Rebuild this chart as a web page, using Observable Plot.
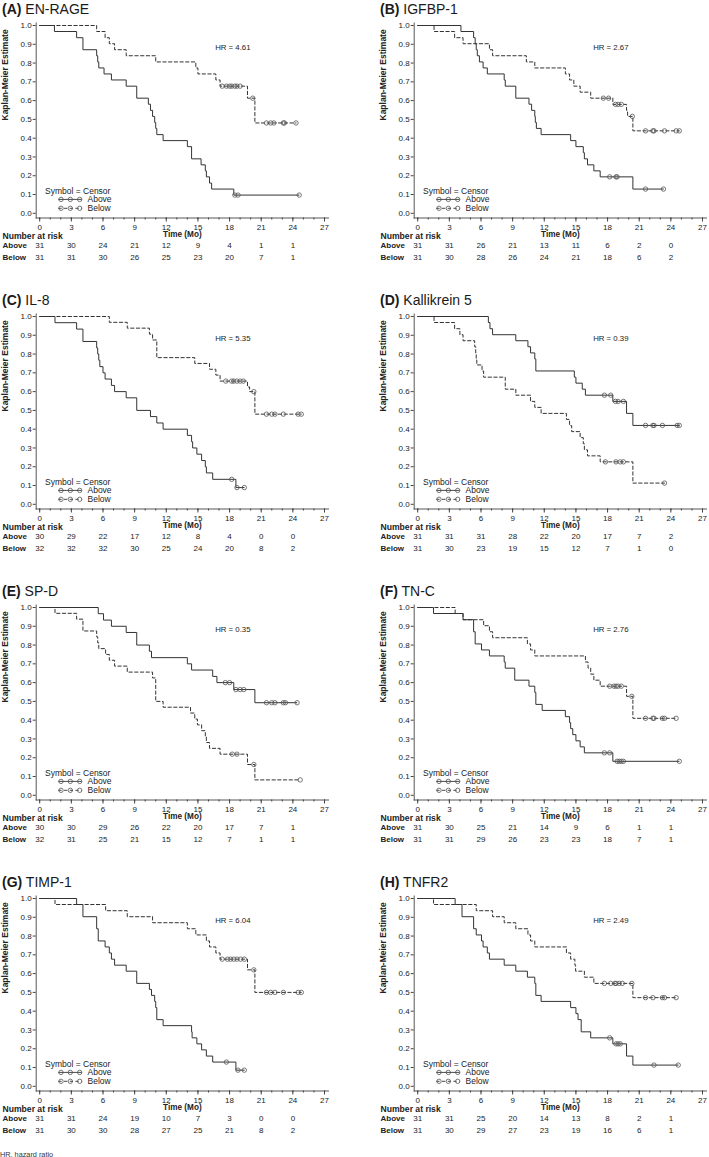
<!DOCTYPE html>
<html>
<head>
<meta charset="utf-8">
<script src="https://cdn.jsdelivr.net/npm/d3@7"></script>
<script src="https://cdn.jsdelivr.net/npm/@observablehq/plot@0.6"></script>
<style>
  html, body { margin: 0; padding: 0; background: #fff; }
  body { width: 709px; height: 1157px; position: relative; overflow: hidden;
         font-family: "Liberation Sans", Arial, Helvetica, sans-serif; color: #222; }
  .panel { position: absolute; width: 331px; height: 280px; }
  .title { position: absolute; left: 2px; top: 2px; font-size: 14px; line-height: 14px; white-space: nowrap; color: #1a1a1a; }
  .title b { font-weight: bold; }
  .legend { position: absolute; left: 0; top: 0; pointer-events: none; }
  .footer { position: absolute; left: 0; top: 1149.5px; font-size: 7.3px; line-height: 9px; color: #333; }
</style>
</head>
<body>
<script>
// ---------- data ----------
const panelLetters = ["A", "B", "C", "D", "E", "F", "G", "H"];
const markerNames = ["EN-RAGE", "IGFBP-1", "IL-8", "Kallikrein 5", "SP-D", "TN-C", "TIMP-1", "TNFR2"];
const hazardRatios = ["4.61", "2.67", "5.35", "0.39", "0.35", "2.76", "6.04", "2.49"];
const xTicks = [0, 3, 6, 9, 12, 15, 18, 21, 24, 27];
const yTicks = [0, 0.1, 0.2, 0.3, 0.4, 0.5, 0.6, 0.7, 0.8, 0.9, 1.0];
const riskTimes = [0, 3, 6, 9, 12, 15, 18, 21, 24];
const riskAbove = [
  [31, 30, 24, 21, 12, 9, 4, 1, 1],
  [31, 31, 26, 21, 13, 11, 6, 2, 0],
  [30, 29, 22, 17, 12, 8, 4, 0, 0],
  [31, 31, 31, 28, 22, 20, 17, 7, 2],
  [30, 30, 29, 26, 22, 20, 17, 7, 1],
  [31, 30, 25, 21, 14, 9, 6, 1, 1],
  [31, 31, 24, 19, 10, 7, 3, 0, 0],
  [31, 31, 25, 20, 14, 13, 8, 2, 1]
];
const riskBelow = [
  [31, 31, 30, 26, 25, 23, 20, 7, 1],
  [31, 30, 28, 26, 24, 21, 18, 6, 2],
  [32, 32, 32, 30, 25, 24, 20, 8, 2],
  [31, 30, 23, 19, 15, 12, 7, 1, 0],
  [32, 31, 25, 21, 15, 12, 7, 1, 1],
  [31, 31, 29, 26, 23, 23, 18, 7, 1],
  [31, 30, 30, 28, 27, 25, 21, 8, 2],
  [31, 30, 29, 27, 23, 19, 16, 6, 1]
];
// [time (months), Kaplan-Meier estimate after the step]
const aboveSteps = [
  [[1.4,.968],[3.5,.935],[4.1,.871],[5.4,.839],[5.5,.806],[5.6,.774],[6.1,.742],[6.8,.710],[8.2,.677],[9.2,.613],[10.3,.581],[10.5,.548],[10.7,.516],[10.9,.484],[11.0,.452],[11.1,.419],[11.7,.387],[14.0,.355],[14.4,.290],[15.3,.258],[15.7,.226],[15.8,.194],[16.1,.161],[16.3,.129],[18.4,.097]],
  [[4.1,.968],[5.3,.935],[5.45,.903],[5.55,.871],[5.65,.839],[5.85,.806],[6.2,.774],[6.6,.742],[8.2,.710],[8.3,.677],[9.3,.613],[10.55,.581],[10.8,.548],[11.1,.516],[11.15,.484],[11.25,.452],[11.7,.419],[14.5,.387],[15.0,.355],[15.7,.323],[15.8,.290],[16.1,.258],[16.7,.226],[17.3,.194],[20.4,.129]],
  [[1.45,.967],[3.5,.933],[4.1,.867],[5.4,.833],[5.5,.8],[5.6,.767],[5.7,.733],[6.0,.7],[6.2,.667],[6.8,.633],[7.1,.6],[8.2,.567],[9.2,.5],[10.5,.467],[11.1,.433],[11.7,.4],[14.0,.367],[14.4,.333],[14.5,.3],[14.9,.267],[15.35,.233],[15.7,.2],[15.8,.167],[16.4,.133],[18.6,.089]],
  [[6.7,.968],[6.85,.935],[7.1,.903],[9.3,.871],[10.45,.839],[10.7,.806],[11.1,.774],[11.2,.710],[14.85,.677],[15.0,.645],[15.6,.613],[15.9,.581],[18.5,.548],[19.8,.484],[20.4,.42]],
  [[5.55,.967],[6.05,.933],[6.8,.9],[8.2,.867],[9.2,.8],[10.4,.767],[10.6,.733],[14.0,.7],[14.4,.667],[16.4,.633],[16.8,.6],[18.4,.563],[20.4,.493]],
  [[1.5,.968],[4.3,.935],[5.3,.871],[5.45,.806],[6.05,.774],[6.8,.742],[8.2,.710],[8.3,.677],[9.2,.613],[10.55,.581],[11.1,.548],[11.2,.484],[11.8,.452],[14.0,.419],[14.4,.387],[14.5,.355],[14.7,.323],[15.0,.290],[15.4,.258],[15.8,.226],[18.5,.181]],
  [[3.5,.968],[4.1,.903],[5.4,.839],[5.55,.774],[6.2,.742],[6.6,.710],[6.8,.677],[7.1,.645],[8.2,.613],[9.2,.548],[10.4,.516],[10.6,.484],[10.9,.452],[11.0,.419],[11.1,.355],[11.7,.323],[14.4,.290],[14.45,.258],[14.9,.226],[15.35,.194],[15.8,.161],[16.4,.129],[18.6,.086]],
  [[3.55,.968],[4.2,.903],[5.3,.839],[5.55,.806],[6.05,.774],[6.2,.742],[6.6,.710],[6.8,.677],[8.2,.645],[9.3,.613],[10.4,.581],[11.1,.548],[11.2,.484],[11.7,.452],[14.5,.419],[15.0,.387],[15.2,.355],[15.5,.290],[16.4,.258],[18.5,.226],[19.8,.161],[20.4,.113]]
];
const aboveCensor = [
  [18.5, 18.8, 24.6],
  [18.2, 18.8, 18.9, 21.6, 23.3],
  [18.2, 18.7, 19.4],
  [17.7, 18.3, 18.75, 19.0, 19.5, 21.6, 22.3, 22.4, 23.2, 24.6, 24.8],
  [17.6, 18.0, 18.6, 19.0, 19.35, 21.5, 22.0, 22.3, 23.1, 23.3, 24.4],
  [17.7, 18.2, 18.9, 19.1, 19.3, 19.5, 24.8],
  [17.7, 18.8, 19.4],
  [18.2, 18.8, 19.0, 19.2, 22.4, 24.7]
];
const belowSteps = [
  [[5.4,.968],[6.2,.935],[6.6,.903],[7.1,.871],[8.2,.839],[11.0,.806],[14.8,.774],[15.0,.742],[16.7,.710],[17.1,.677],[19.7,.613],[20.4,.481]],
  [[1.55,.968],[3.5,.935],[4.3,.903],[6.8,.871],[7.1,.839],[10.3,.806],[11.1,.774],[14.0,.742],[14.4,.710],[14.8,.677],[15.4,.645],[16.4,.613],[18.5,.58],[19.8,.548],[19.9,.516],[20.4,.439]],
  [[6.6,.969],[8.3,.938],[10.4,.906],[10.7,.875],[11.1,.781],[14.7,.75],[16.1,.719],[16.7,.688],[17.1,.656],[19.7,.625],[19.9,.6],[20.4,.48]],
  [[1.55,.968],[3.5,.935],[4.0,.903],[4.3,.871],[5.4,.839],[5.5,.806],[5.55,.774],[5.6,.742],[6.1,.710],[6.25,.677],[8.3,.613],[9.3,.581],[10.7,.548],[11.1,.516],[11.7,.484],[14.1,.452],[14.4,.419],[14.6,.387],[15.4,.355],[15.7,.323],[15.8,.290],[16.1,.258],[17.3,.226],[20.4,.113]],
  [[1.45,.969],[3.5,.938],[4.1,.875],[5.4,.844],[5.5,.812],[5.6,.781],[6.25,.75],[6.6,.719],[7.1,.688],[8.3,.656],[10.7,.625],[11.0,.5],[11.7,.469],[14.3,.438],[14.7,.406],[14.95,.375],[15.35,.344],[15.7,.312],[15.8,.281],[16.1,.25],[17.1,.219],[19.7,.164],[20.4,.082]],
  [[3.55,.968],[4.3,.935],[6.25,.903],[6.8,.871],[7.1,.839],[10.4,.806],[10.7,.774],[11.1,.742],[15.9,.710],[16.15,.677],[16.4,.645],[16.7,.613],[17.3,.581],[19.8,.527],[20.4,.41]],
  [[1.45,.968],[6.25,.935],[8.3,.903],[10.7,.871],[14.0,.839],[14.8,.806],[15.8,.774],[16.1,.742],[16.7,.710],[17.1,.677],[19.7,.62],[20.4,.5]],
  [[1.5,.968],[5.55,.935],[7.1,.903],[8.2,.871],[9.3,.839],[10.45,.806],[10.7,.774],[11.1,.742],[14.1,.710],[14.5,.677],[14.9,.645],[14.97,.613],[15.8,.581],[16.7,.548],[20.4,.472]]
];
const belowCensor = [
  [17.3, 17.7, 18.0, 18.2, 18.5, 18.7, 19.0, 20.2, 21.5, 21.9, 22.2, 23.1, 23.2, 24.3],
  [17.6, 18.1, 18.75, 19.0, 19.3, 20.35, 21.6, 22.3, 22.4, 23.4, 24.5, 24.8],
  [17.65, 18.2, 18.4, 18.7, 19.0, 19.3, 20.3, 21.5, 22.0, 22.3, 23.1, 24.5, 24.8],
  [17.8, 18.8, 19.2, 19.5, 23.4],
  [18.25, 18.7, 20.3, 24.7],
  [18.2, 18.6, 18.8, 19.0, 19.3, 20.3, 21.6, 22.3, 22.4, 23.2, 23.4, 24.5],
  [17.3, 17.8, 18.1, 18.4, 18.7, 19.05, 19.4, 20.3, 21.5, 21.9, 22.3, 23.1, 24.5, 24.8],
  [17.7, 18.3, 18.7, 18.8, 19.1, 19.4, 20.3, 21.6, 22.3, 23.2, 23.4, 24.5]
];

// ---------- helpers ----------
const INK = "#333";
const AXIS = "#444";
const DASH = "3.3,2.4";
const FONT = "'Liberation Sans', Arial, Helvetica, sans-serif";

function survAt(steps, t) {
  let s = 1;
  for (const [st, sv] of steps) if (st <= t) s = sv;
  return s;
}
function curve(steps, censor) {
  const pts = [{t: 0, s: 1}, ...steps.map(([t, s]) => ({t, s}))];
  const tEnd = Math.max(steps[steps.length - 1][0], d3.max(censor));
  pts.push({t: tEnd, s: steps[steps.length - 1][1]});
  return pts;
}
function censorPts(steps, censor) {
  return censor.map(t => ({t, s: survAt(steps, t)}));
}

function makeLegend() {
  const svg = d3.create("svg").attr("class", "legend").attr("width", 331).attr("height", 230)
    .style("font-family", FONT).style("font-size", "8.5px").style("fill", "#222");
  svg.append("text").attr("x", 45).attr("y", 190.8).attr("dy", "0.35em").text("Symbol = Censor");
  const rows = [{y: 199.4, label: "Above", dash: null}, {y: 208.3, label: "Below", dash: DASH}];
  for (const r of rows) {
    svg.append("line").attr("x1", 58.3).attr("x2", 81.7).attr("y1", r.y).attr("y2", r.y)
      .attr("stroke", INK).attr("stroke-width", 0.9).attr("stroke-dasharray", r.dash);
    for (const cx of [61, 70.3, 79.7]) {
      svg.append("circle").attr("cx", cx).attr("cy", r.y).attr("r", 2.2)
        .attr("fill", "none").attr("stroke", "#555").attr("stroke-width", 0.8);
    }
    svg.append("text").attr("x", 87.5).attr("y", r.y).attr("dy", "0.35em").text(r.label);
  }
  return svg.node();
}

function makePanel(i) {
  const up = aboveSteps[i], uc = aboveCensor[i], dn = belowSteps[i], dc = belowCensor[i];
  const riskA = riskTimes.map((t, k) => ({t, n: riskAbove[i][k]}));
  const riskB = riskTimes.map((t, k) => ({t, n: riskBelow[i][k]}));
  return Plot.plot({
    width: 331,
    height: 270,
    marginLeft: 35.7,
    marginRight: 3,
    marginTop: 22.5,
    marginBottom: 52.5,
    x: {domain: [0, 27], insetLeft: 3.5, insetRight: 4},
    y: {domain: [0, 1], insetTop: 2.5, insetBottom: 4.7},
    style: {fontFamily: FONT, fontSize: "8px", color: "#222", background: "transparent", overflow: "visible"},
    marks: [
      Plot.frame({anchor: "left", stroke: AXIS, strokeWidth: 0.9}),
      Plot.frame({anchor: "bottom", stroke: AXIS, strokeWidth: 0.9}),
      Plot.axisY({ticks: yTicks, tickFormat: d3.format(".1f"), tickSize: 3, tickPadding: 1.5, label: null, stroke: AXIS}),
      Plot.axisX({ticks: xTicks, tickSize: 4, tickPadding: 2, label: null, stroke: AXIS}),
      Plot.axisX({ticks: d3.range(0, 28), tickSize: 2, tickFormat: () => "", label: null, stroke: AXIS}),
      Plot.line(curve(dn, dc), {x: "t", y: "s", curve: "step-after", stroke: INK, strokeWidth: 1, strokeDasharray: DASH}),
      Plot.line(curve(up, uc), {x: "t", y: "s", curve: "step-after", stroke: INK, strokeWidth: 1}),
      Plot.dot(censorPts(dn, dc), {x: "t", y: "s", r: 2.2, stroke: "#555", strokeWidth: 0.8, fill: "none"}),
      Plot.dot(censorPts(up, uc), {x: "t", y: "s", r: 2.2, stroke: "#555", strokeWidth: 0.8, fill: "none"}),
      Plot.text([`HR = ${hazardRatios[i]}`], {frameAnchor: "top-right", dx: -78, dy: 21.5, fontSize: 7.8}),
      Plot.text(["Kaplan-Meier Estimate"], {frameAnchor: "left", dx: -30.7, rotate: -90, fontWeight: "bold", fontSize: 8.5}),
      Plot.text(["Time (Mo)"], {frameAnchor: "bottom", dy: 19.4, fontWeight: "bold", fontSize: 8.2}),
      Plot.text(["Number at risk"], {frameAnchor: "bottom-left", dx: -33.7, dy: 20.8, textAnchor: "start", fontWeight: "bold", fontSize: 8.6}),
      Plot.text(["Above"], {frameAnchor: "bottom-left", dx: -33.7, dy: 30.2, textAnchor: "start", fontWeight: "bold"}),
      Plot.text(["Below"], {frameAnchor: "bottom-left", dx: -33.7, dy: 42, textAnchor: "start", fontWeight: "bold"}),
      Plot.text(riskA, {x: "t", text: "n", frameAnchor: "bottom", dy: 30.2}),
      Plot.text(riskB, {x: "t", text: "n", frameAnchor: "bottom", dy: 42})
    ]
  });
}

for (let i = 0; i < 8; i++) {
  const panel = document.createElement("div");
  panel.className = "panel";
  panel.style.left = (i % 2 === 0 ? 0 : 378) + "px";
  panel.style.top = (Math.floor(i / 2) * 291) + "px";
  const chart = makePanel(i);
  chart.style.position = "absolute";
  chart.style.left = "0px";
  chart.style.top = "0px";
  panel.appendChild(chart);
  panel.appendChild(makeLegend());
  const title = document.createElement("div");
  title.className = "title";
  title.innerHTML = `<b>(${panelLetters[i]})</b> ${markerNames[i]}`;
  panel.appendChild(title);
  document.body.appendChild(panel);
}
const footer = document.createElement("div");
footer.className = "footer";
footer.textContent = "HR, hazard ratio";
document.body.appendChild(footer);
</script>
</body>
</html>
